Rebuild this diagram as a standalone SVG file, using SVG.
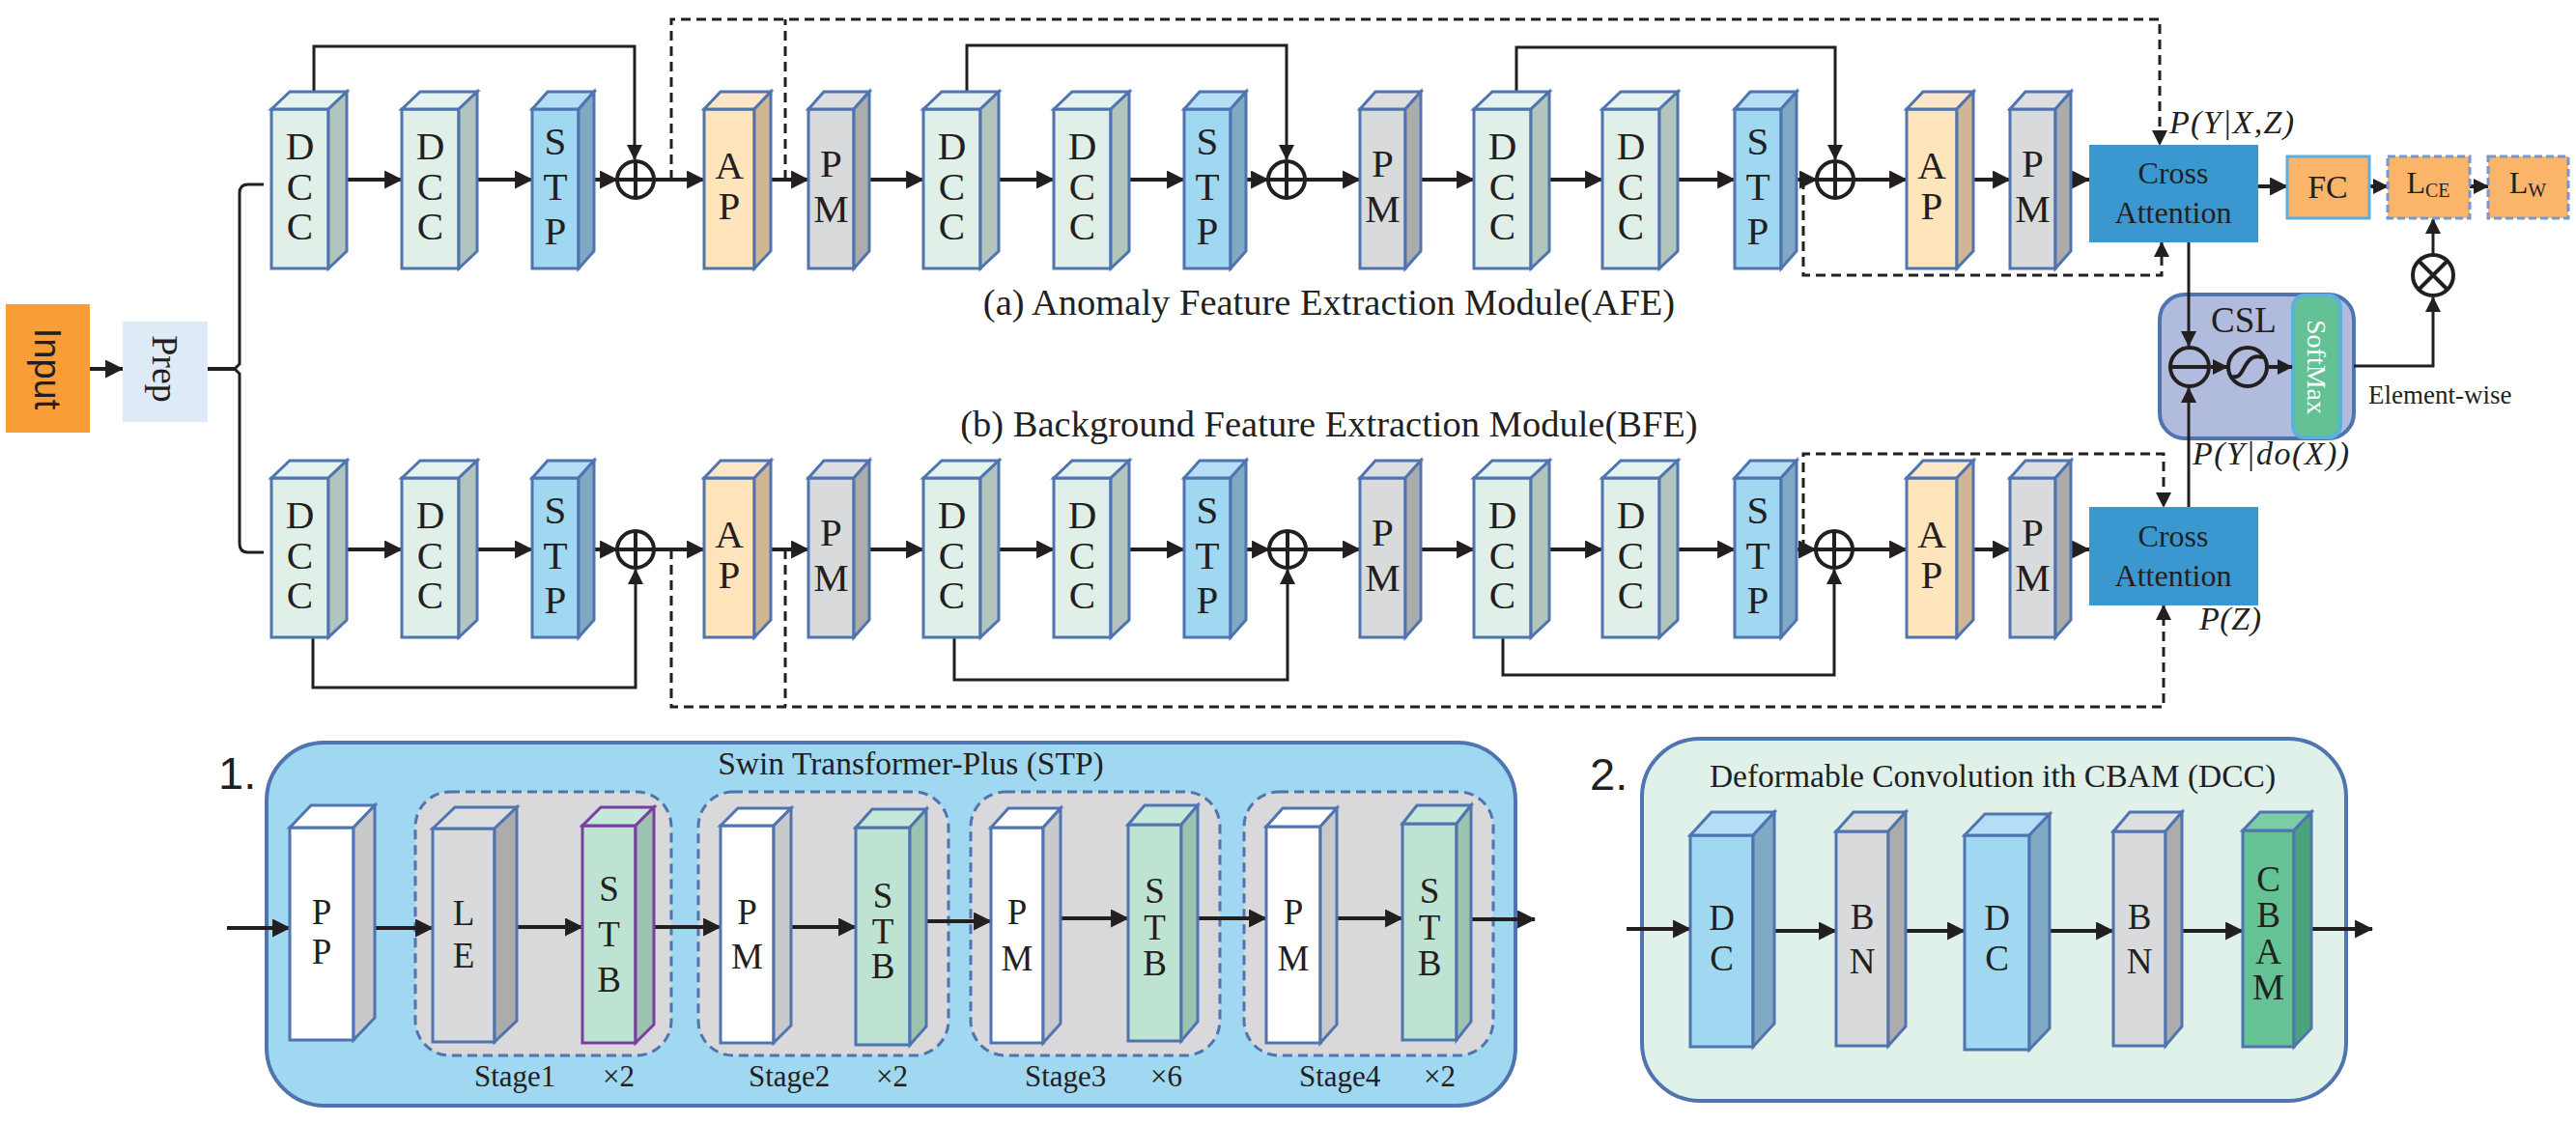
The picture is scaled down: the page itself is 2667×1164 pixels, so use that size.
<svg xmlns="http://www.w3.org/2000/svg" width="2667" height="1164" viewBox="0 0 2667 1164">
<style>
.bd{stroke:#4F74AF;stroke-width:3;stroke-linejoin:miter}
.bp{stroke:#7A3E9D;stroke-width:3}
.fdcc{fill:#E0F0E9}.tdcc{fill:#E4F3ED}.sdcc{fill:#B1C5BD}
.fstp{fill:#A0D7F1}.tstp{fill:#B4DEF5}.sstp{fill:#80A9C4}
.fap{fill:#FFE4BC}.tap{fill:#FEE7C8}.sap{fill:#D1B693}
.fpm{fill:#D9DADC}.tpm{fill:#DDDEE0}.spm{fill:#ACACAC}
.fw{fill:#FFFFFF}.sw{fill:#C8C9CA}
.fstb{fill:#BEE3D3}.tstb{fill:#C6E8D9}.sstb{fill:#9CC3B2}
.fcb{fill:#65C295}.tcb{fill:#7CCDA6}.scb{fill:#4BA37B}
.ln{stroke:#231F20;stroke-width:4;fill:none}
.sk{stroke:#231F20;stroke-width:3;fill:none}
.ds{stroke:#231F20;stroke-width:3;fill:none;stroke-dasharray:10 6}
.op{fill:#FFFFFF;stroke:#231F20;stroke-width:4}
.opl{stroke:#231F20;stroke-width:4;fill:none}
text{font-family:"Liberation Serif","Times New Roman",serif;fill:#231F20}
.lt{font-size:41px;text-anchor:middle}
.ls{font-size:37px;text-anchor:middle}
.cap{font-size:38.5px;text-anchor:middle}
.ca{font-size:32px;text-anchor:middle}
.math{font-size:34px;font-style:italic}
.stg{font-size:31px}
.ttl{font-size:33.5px;text-anchor:middle}
.num{font-family:"Liberation Sans",Arial,sans-serif;font-size:47px}
</style>
<defs>
<marker id="ah" markerUnits="userSpaceOnUse" markerWidth="19" markerHeight="19" viewBox="0 0 18 18" refX="17" refY="9" orient="auto"><path d="M0,0 L18,9 L0,18 Z" fill="#231F20"/></marker>
<marker id="ahs" markerUnits="userSpaceOnUse" markerWidth="16" markerHeight="16" viewBox="0 0 16 16" refX="15" refY="8" orient="auto"><path d="M0,0 L16,8 L0,16 Z" fill="#231F20"/></marker>
</defs>
<rect width="2667" height="1164" fill="#FFFFFF"/>

<!-- ===== Panel backgrounds ===== -->
<g id="panel-stp">
<rect x="276" y="769" width="1293" height="376" rx="60" fill="#A0D7F1" stroke="#4F74AF" stroke-width="4"/>
<text class="num" x="226" y="817">1.</text>
<text class="ttl" x="943" y="802">Swin Transformer-Plus (STP)</text>
<rect x="430" y="820" width="265" height="273" rx="36" fill="#D9D9DB" stroke="#4F74AF" stroke-width="3" stroke-dasharray="10 6"/>
<rect x="723" y="820" width="259" height="273" rx="36" fill="#D9D9DB" stroke="#4F74AF" stroke-width="3" stroke-dasharray="10 6"/>
<rect x="1005" y="820" width="258" height="273" rx="36" fill="#D9D9DB" stroke="#4F74AF" stroke-width="3" stroke-dasharray="10 6"/>
<rect x="1288" y="820" width="258" height="273" rx="36" fill="#D9D9DB" stroke="#4F74AF" stroke-width="3" stroke-dasharray="10 6"/>
<text class="stg" x="491" y="1125">Stage1</text><text class="stg" x="624" y="1125">×2</text>
<text class="stg" x="775" y="1125">Stage2</text><text class="stg" x="907" y="1125">×2</text>
<text class="stg" x="1061" y="1125">Stage3</text><text class="stg" x="1191" y="1125">×6</text>
<text class="stg" x="1345" y="1125">Stage4</text><text class="stg" x="1474" y="1125">×2</text>
</g>
<g id="panel-dcc">
<rect x="1700" y="765" width="729" height="375" rx="60" fill="#E0F1EA" stroke="#4F74AF" stroke-width="4"/>
<text class="num" x="1646" y="818">2.</text>
<text class="ttl" x="2063" y="815">Deformable Convolution ith CBAM (DCC)</text>
</g>

<!-- ===== CSL (drawn under its arrows) ===== -->
<g id="csl">
<rect x="2236" y="305" width="201" height="149" rx="26" fill="#B1BBDD" stroke="#4F74AF" stroke-width="4"/>
<rect x="2374" y="306" width="49" height="147" rx="12" fill="#64C195" stroke="#5BB0E0" stroke-width="4"/>
<text transform="translate(2398,380) rotate(90)" text-anchor="middle" dominant-baseline="central" style="font-size:28px;fill:#FFFFFF">SoftMax</text>
<text x="2323" y="344" text-anchor="middle" style="font-size:37px">CSL</text>
<circle cx="2267" cy="380" r="20" style="fill:none;stroke:#231F20;stroke-width:4"/><path class="opl" d="M2247,380 H2287"/>
<circle cx="2327" cy="380" r="20" style="fill:none;stroke:#231F20;stroke-width:4"/><path class="opl" d="M2311,390 C2320,392 2321,384 2325,378 C2330,370 2334,368 2343,370"/>
</g>

<!-- ===== Connectors ===== -->
<g id="connectors">
<line class="ln" x1="93" y1="382" x2="127" y2="382" marker-end="url(#ah)"/>
<path class="ln" d="M215,382 H243"/>
<path class="sk" d="M273,191 H257 Q248,191 248,200 V377 L243,382 L248,387 V563 Q248,572 257,572 H273"/>
<!-- top row -->
<line class="ln" x1="359" y1="186" x2="416" y2="186" marker-end="url(#ah)"/>
<line class="ln" x1="494" y1="186" x2="551" y2="186" marker-end="url(#ah)"/>
<line class="ln" x1="615" y1="186" x2="639" y2="186" marker-end="url(#ah)"/>
<line class="ln" x1="677" y1="186" x2="729" y2="186" marker-end="url(#ah)"/>
<line class="ln" x1="798" y1="186" x2="837" y2="186" marker-end="url(#ah)"/>
<line class="ln" x1="900" y1="186" x2="956" y2="186" marker-end="url(#ah)"/>
<line class="ln" x1="1034" y1="186" x2="1091" y2="186" marker-end="url(#ah)"/>
<line class="ln" x1="1169" y1="186" x2="1226" y2="186" marker-end="url(#ah)"/>
<line class="ln" x1="1290" y1="186" x2="1313" y2="186" marker-end="url(#ah)"/>
<line class="ln" x1="1351" y1="186" x2="1408" y2="186" marker-end="url(#ah)"/>
<line class="ln" x1="1471" y1="186" x2="1526" y2="186" marker-end="url(#ah)"/>
<line class="ln" x1="1604" y1="186" x2="1659" y2="186" marker-end="url(#ah)"/>
<line class="ln" x1="1737" y1="186" x2="1796" y2="186" marker-end="url(#ah)"/>
<line class="ln" x1="1860" y1="186" x2="1881" y2="186" marker-end="url(#ah)"/>
<line class="ln" x1="1919" y1="186" x2="1974" y2="186" marker-end="url(#ah)"/>
<line class="ln" x1="2043" y1="186" x2="2081" y2="186" marker-end="url(#ah)"/>
<line class="ln" x1="2144" y1="186" x2="2163" y2="186" marker-end="url(#ah)"/>
<path class="sk" d="M325,95 V48 H657 V165" marker-end="url(#ahs)"/>
<path class="sk" d="M1001,95 V47 H1332 V165" marker-end="url(#ahs)"/>
<path class="sk" d="M1570,95 V49 H1900 V165" marker-end="url(#ahs)"/>
<path class="ds" d="M695,186 V20 H2236 V150" marker-end="url(#ahs)"/>
<path class="ds" d="M813,186 V20"/>
<path class="ds" d="M1867,186 V285 H2238 V251" marker-end="url(#ahs)"/>
<!-- bottom row -->
<line class="ln" x1="359" y1="569" x2="416" y2="569" marker-end="url(#ah)"/>
<line class="ln" x1="494" y1="569" x2="551" y2="569" marker-end="url(#ah)"/>
<line class="ln" x1="615" y1="569" x2="639" y2="569" marker-end="url(#ah)"/>
<line class="ln" x1="677" y1="569" x2="729" y2="569" marker-end="url(#ah)"/>
<line class="ln" x1="798" y1="569" x2="837" y2="569" marker-end="url(#ah)"/>
<line class="ln" x1="900" y1="569" x2="956" y2="569" marker-end="url(#ah)"/>
<line class="ln" x1="1034" y1="569" x2="1091" y2="569" marker-end="url(#ah)"/>
<line class="ln" x1="1169" y1="569" x2="1226" y2="569" marker-end="url(#ah)"/>
<line class="ln" x1="1290" y1="569" x2="1314" y2="569" marker-end="url(#ah)"/>
<line class="ln" x1="1352" y1="569" x2="1408" y2="569" marker-end="url(#ah)"/>
<line class="ln" x1="1471" y1="569" x2="1526" y2="569" marker-end="url(#ah)"/>
<line class="ln" x1="1604" y1="569" x2="1659" y2="569" marker-end="url(#ah)"/>
<line class="ln" x1="1737" y1="569" x2="1796" y2="569" marker-end="url(#ah)"/>
<line class="ln" x1="1860" y1="569" x2="1880" y2="569" marker-end="url(#ah)"/>
<line class="ln" x1="1918" y1="569" x2="1974" y2="569" marker-end="url(#ah)"/>
<line class="ln" x1="2043" y1="569" x2="2081" y2="569" marker-end="url(#ah)"/>
<line class="ln" x1="2144" y1="569" x2="2163" y2="569" marker-end="url(#ah)"/>
<path class="sk" d="M324,660 V712 H658 V590" marker-end="url(#ahs)"/>
<path class="sk" d="M988,660 V704 H1333 V590" marker-end="url(#ahs)"/>
<path class="sk" d="M1556,660 V699 H1899 V590" marker-end="url(#ahs)"/>
<path class="ds" d="M695,569 V732 H2240 V627" marker-end="url(#ahs)"/>
<path class="ds" d="M813,569 V732"/>
<path class="ds" d="M1867,569 V470 H2240 V525" marker-end="url(#ahs)"/>
<!-- head -->
<line class="sk" x1="2266" y1="251" x2="2266" y2="358" marker-end="url(#ahs)"/>
<line class="sk" x1="2266" y1="525" x2="2266" y2="402" marker-end="url(#ahs)"/>
<line class="ln" x1="2289" y1="380" x2="2306" y2="380" marker-end="url(#ahs)"/>
<line class="ln" x1="2349" y1="380" x2="2373" y2="380" marker-end="url(#ahs)"/>
<path class="sk" d="M2437,379 H2519 V308" marker-end="url(#ahs)"/>
<line class="sk" x1="2519" y1="264" x2="2519" y2="227" marker-end="url(#ahs)"/>
<line class="ln" x1="2338" y1="193" x2="2368" y2="193" marker-end="url(#ah)"/>
<line class="ln" x1="2453" y1="193" x2="2472" y2="193" marker-end="url(#ahs)"/>
<line class="ln" x1="2557" y1="193" x2="2576" y2="193" marker-end="url(#ahs)"/>
<!-- panel 1 -->
<line class="ln" x1="235" y1="961" x2="300" y2="961" marker-end="url(#ah)"/>
<line class="ln" x1="388" y1="961" x2="448" y2="961" marker-end="url(#ah)"/>
<line class="ln" x1="535" y1="960" x2="603" y2="960" marker-end="url(#ah)"/>
<line class="ln" x1="677" y1="960" x2="746" y2="960" marker-end="url(#ah)"/>
<line class="ln" x1="819" y1="960" x2="886" y2="960" marker-end="url(#ah)"/>
<line class="ln" x1="959" y1="954" x2="1026" y2="954" marker-end="url(#ah)"/>
<line class="ln" x1="1098" y1="951" x2="1168" y2="951" marker-end="url(#ah)"/>
<line class="ln" x1="1240" y1="951" x2="1311" y2="951" marker-end="url(#ah)"/>
<line class="ln" x1="1384" y1="951" x2="1452" y2="951" marker-end="url(#ah)"/>
<line class="ln" x1="1523" y1="952" x2="1589" y2="952" marker-end="url(#ah)"/>
<!-- panel 2 -->
<line class="ln" x1="1684" y1="962" x2="1750" y2="962" marker-end="url(#ah)"/>
<line class="ln" x1="1837" y1="964" x2="1901" y2="964" marker-end="url(#ah)"/>
<line class="ln" x1="1973" y1="964" x2="2034" y2="964" marker-end="url(#ah)"/>
<line class="ln" x1="2122" y1="964" x2="2188" y2="964" marker-end="url(#ah)"/>
<line class="ln" x1="2259" y1="964" x2="2322" y2="964" marker-end="url(#ah)"/>
<line class="ln" x1="2393" y1="962" x2="2456" y2="962" marker-end="url(#ah)"/>
</g>

<!-- Input / Prep -->
<g id="input"><rect x="6" y="315" width="87" height="133" fill="#F99D36"/><text transform="translate(49,382) rotate(90)" text-anchor="middle" dominant-baseline="central" style="font-family:'Liberation Sans',Arial,sans-serif;font-size:38px">Input</text></g>
<g id="prep"><rect x="127" y="333" width="88" height="104" fill="#DEEAF6"/><text transform="translate(171,382) rotate(90)" text-anchor="middle" dominant-baseline="central" style="font-size:38px">Prep</text></g>

<!-- ===== AFE (top row) ===== -->
<g id="afe-dcc1" transform="translate(281,95)"><rect class="bd fdcc" x="0" y="18" width="59" height="165"/><polygon class="bd tdcc" points="0,18 19,0 78,0 59,18"/><polygon class="bd sdcc" points="59,18 78,0 78,165 59,183"/><text class="lt" x="29.5" y="70">D</text><text class="lt" x="29.5" y="112">C</text><text class="lt" x="29.5" y="153">C</text></g>
<g id="afe-dcc2" transform="translate(416,95)"><rect class="bd fdcc" x="0" y="18" width="59" height="165"/><polygon class="bd tdcc" points="0,18 19,0 78,0 59,18"/><polygon class="bd sdcc" points="59,18 78,0 78,165 59,183"/><text class="lt" x="29.5" y="70">D</text><text class="lt" x="29.5" y="112">C</text><text class="lt" x="29.5" y="153">C</text></g>
<g id="afe-stp1" transform="translate(551,95)"><rect class="bd fstp" x="0" y="18" width="48" height="165"/><polygon class="bd tstp" points="0,18 16,0 64,0 48,18"/><polygon class="bd sstp" points="48,18 64,0 64,165 48,183"/><text class="lt" x="24" y="65">S</text><text class="lt" x="24" y="112">T</text><text class="lt" x="24" y="158">P</text></g>
<g id="afe-ap1" transform="translate(729,95)"><rect class="bd fap" x="0" y="18" width="52" height="165"/><polygon class="bd tap" points="0,18 17,0 69,0 52,18"/><polygon class="bd sap" points="52,18 69,0 69,165 52,183"/><text class="lt" x="26" y="90">A</text><text class="lt" x="26" y="132">P</text></g>
<g id="afe-pm1" transform="translate(837,95)"><rect class="bd fpm" x="0" y="18" width="47" height="165"/><polygon class="bd tpm" points="0,18 16,0 63,0 47,18"/><polygon class="bd spm" points="47,18 63,0 63,165 47,183"/><text class="lt" x="23.5" y="88">P</text><text class="lt" x="23.5" y="135">M</text></g>
<g id="afe-dcc3" transform="translate(956,95)"><rect class="bd fdcc" x="0" y="18" width="59" height="165"/><polygon class="bd tdcc" points="0,18 19,0 78,0 59,18"/><polygon class="bd sdcc" points="59,18 78,0 78,165 59,183"/><text class="lt" x="29.5" y="70">D</text><text class="lt" x="29.5" y="112">C</text><text class="lt" x="29.5" y="153">C</text></g>
<g id="afe-dcc4" transform="translate(1091,95)"><rect class="bd fdcc" x="0" y="18" width="59" height="165"/><polygon class="bd tdcc" points="0,18 19,0 78,0 59,18"/><polygon class="bd sdcc" points="59,18 78,0 78,165 59,183"/><text class="lt" x="29.5" y="70">D</text><text class="lt" x="29.5" y="112">C</text><text class="lt" x="29.5" y="153">C</text></g>
<g id="afe-stp2" transform="translate(1226,95)"><rect class="bd fstp" x="0" y="18" width="48" height="165"/><polygon class="bd tstp" points="0,18 16,0 64,0 48,18"/><polygon class="bd sstp" points="48,18 64,0 64,165 48,183"/><text class="lt" x="24" y="65">S</text><text class="lt" x="24" y="112">T</text><text class="lt" x="24" y="158">P</text></g>
<g id="afe-pm2" transform="translate(1408,95)"><rect class="bd fpm" x="0" y="18" width="47" height="165"/><polygon class="bd tpm" points="0,18 16,0 63,0 47,18"/><polygon class="bd spm" points="47,18 63,0 63,165 47,183"/><text class="lt" x="23.5" y="88">P</text><text class="lt" x="23.5" y="135">M</text></g>
<g id="afe-dcc5" transform="translate(1526,95)"><rect class="bd fdcc" x="0" y="18" width="59" height="165"/><polygon class="bd tdcc" points="0,18 19,0 78,0 59,18"/><polygon class="bd sdcc" points="59,18 78,0 78,165 59,183"/><text class="lt" x="29.5" y="70">D</text><text class="lt" x="29.5" y="112">C</text><text class="lt" x="29.5" y="153">C</text></g>
<g id="afe-dcc6" transform="translate(1659,95)"><rect class="bd fdcc" x="0" y="18" width="59" height="165"/><polygon class="bd tdcc" points="0,18 19,0 78,0 59,18"/><polygon class="bd sdcc" points="59,18 78,0 78,165 59,183"/><text class="lt" x="29.5" y="70">D</text><text class="lt" x="29.5" y="112">C</text><text class="lt" x="29.5" y="153">C</text></g>
<g id="afe-stp3" transform="translate(1796,95)"><rect class="bd fstp" x="0" y="18" width="48" height="165"/><polygon class="bd tstp" points="0,18 16,0 64,0 48,18"/><polygon class="bd sstp" points="48,18 64,0 64,165 48,183"/><text class="lt" x="24" y="65">S</text><text class="lt" x="24" y="112">T</text><text class="lt" x="24" y="158">P</text></g>
<g id="afe-ap3" transform="translate(1974,95)"><rect class="bd fap" x="0" y="18" width="52" height="165"/><polygon class="bd tap" points="0,18 17,0 69,0 52,18"/><polygon class="bd sap" points="52,18 69,0 69,165 52,183"/><text class="lt" x="26" y="90">A</text><text class="lt" x="26" y="132">P</text></g>
<g id="afe-pm3" transform="translate(2081,95)"><rect class="bd fpm" x="0" y="18" width="47" height="165"/><polygon class="bd tpm" points="0,18 16,0 63,0 47,18"/><polygon class="bd spm" points="47,18 63,0 63,165 47,183"/><text class="lt" x="23.5" y="88">P</text><text class="lt" x="23.5" y="135">M</text></g>
<g id="afe-add1"><circle class="op" cx="658" cy="186" r="19"/><path class="opl" d="M639,186 H677 M658,167 V205"/></g>
<g id="afe-add2"><circle class="op" cx="1332" cy="186" r="19"/><path class="opl" d="M1313,186 H1351 M1332,167 V205"/></g>
<g id="afe-add3"><circle class="op" cx="1900" cy="186" r="19"/><path class="opl" d="M1881,186 H1919 M1900,167 V205"/></g>
<g id="afe-ca"><rect x="2163" y="150" width="175" height="101" fill="#3A97D0"/><text class="ca" x="2250" y="190">Cross</text><text class="ca" x="2250" y="231">Attention</text></g>
<text class="cap" x="1376" y="326">(a) Anomaly Feature Extraction Module(AFE)</text>

<!-- ===== BFE (bottom row) ===== -->
<g id="bfe-dcc1" transform="translate(281,477)"><rect class="bd fdcc" x="0" y="18" width="59" height="165"/><polygon class="bd tdcc" points="0,18 19,0 78,0 59,18"/><polygon class="bd sdcc" points="59,18 78,0 78,165 59,183"/><text class="lt" x="29.5" y="70">D</text><text class="lt" x="29.5" y="112">C</text><text class="lt" x="29.5" y="153">C</text></g>
<g id="bfe-dcc2" transform="translate(416,477)"><rect class="bd fdcc" x="0" y="18" width="59" height="165"/><polygon class="bd tdcc" points="0,18 19,0 78,0 59,18"/><polygon class="bd sdcc" points="59,18 78,0 78,165 59,183"/><text class="lt" x="29.5" y="70">D</text><text class="lt" x="29.5" y="112">C</text><text class="lt" x="29.5" y="153">C</text></g>
<g id="bfe-stp1" transform="translate(551,477)"><rect class="bd fstp" x="0" y="18" width="48" height="165"/><polygon class="bd tstp" points="0,18 16,0 64,0 48,18"/><polygon class="bd sstp" points="48,18 64,0 64,165 48,183"/><text class="lt" x="24" y="65">S</text><text class="lt" x="24" y="112">T</text><text class="lt" x="24" y="158">P</text></g>
<g id="bfe-ap1" transform="translate(729,477)"><rect class="bd fap" x="0" y="18" width="52" height="165"/><polygon class="bd tap" points="0,18 17,0 69,0 52,18"/><polygon class="bd sap" points="52,18 69,0 69,165 52,183"/><text class="lt" x="26" y="90">A</text><text class="lt" x="26" y="132">P</text></g>
<g id="bfe-pm1" transform="translate(837,477)"><rect class="bd fpm" x="0" y="18" width="47" height="165"/><polygon class="bd tpm" points="0,18 16,0 63,0 47,18"/><polygon class="bd spm" points="47,18 63,0 63,165 47,183"/><text class="lt" x="23.5" y="88">P</text><text class="lt" x="23.5" y="135">M</text></g>
<g id="bfe-dcc3" transform="translate(956,477)"><rect class="bd fdcc" x="0" y="18" width="59" height="165"/><polygon class="bd tdcc" points="0,18 19,0 78,0 59,18"/><polygon class="bd sdcc" points="59,18 78,0 78,165 59,183"/><text class="lt" x="29.5" y="70">D</text><text class="lt" x="29.5" y="112">C</text><text class="lt" x="29.5" y="153">C</text></g>
<g id="bfe-dcc4" transform="translate(1091,477)"><rect class="bd fdcc" x="0" y="18" width="59" height="165"/><polygon class="bd tdcc" points="0,18 19,0 78,0 59,18"/><polygon class="bd sdcc" points="59,18 78,0 78,165 59,183"/><text class="lt" x="29.5" y="70">D</text><text class="lt" x="29.5" y="112">C</text><text class="lt" x="29.5" y="153">C</text></g>
<g id="bfe-stp2" transform="translate(1226,477)"><rect class="bd fstp" x="0" y="18" width="48" height="165"/><polygon class="bd tstp" points="0,18 16,0 64,0 48,18"/><polygon class="bd sstp" points="48,18 64,0 64,165 48,183"/><text class="lt" x="24" y="65">S</text><text class="lt" x="24" y="112">T</text><text class="lt" x="24" y="158">P</text></g>
<g id="bfe-pm2" transform="translate(1408,477)"><rect class="bd fpm" x="0" y="18" width="47" height="165"/><polygon class="bd tpm" points="0,18 16,0 63,0 47,18"/><polygon class="bd spm" points="47,18 63,0 63,165 47,183"/><text class="lt" x="23.5" y="88">P</text><text class="lt" x="23.5" y="135">M</text></g>
<g id="bfe-dcc5" transform="translate(1526,477)"><rect class="bd fdcc" x="0" y="18" width="59" height="165"/><polygon class="bd tdcc" points="0,18 19,0 78,0 59,18"/><polygon class="bd sdcc" points="59,18 78,0 78,165 59,183"/><text class="lt" x="29.5" y="70">D</text><text class="lt" x="29.5" y="112">C</text><text class="lt" x="29.5" y="153">C</text></g>
<g id="bfe-dcc6" transform="translate(1659,477)"><rect class="bd fdcc" x="0" y="18" width="59" height="165"/><polygon class="bd tdcc" points="0,18 19,0 78,0 59,18"/><polygon class="bd sdcc" points="59,18 78,0 78,165 59,183"/><text class="lt" x="29.5" y="70">D</text><text class="lt" x="29.5" y="112">C</text><text class="lt" x="29.5" y="153">C</text></g>
<g id="bfe-stp3" transform="translate(1796,477)"><rect class="bd fstp" x="0" y="18" width="48" height="165"/><polygon class="bd tstp" points="0,18 16,0 64,0 48,18"/><polygon class="bd sstp" points="48,18 64,0 64,165 48,183"/><text class="lt" x="24" y="65">S</text><text class="lt" x="24" y="112">T</text><text class="lt" x="24" y="158">P</text></g>
<g id="bfe-ap3" transform="translate(1974,477)"><rect class="bd fap" x="0" y="18" width="52" height="165"/><polygon class="bd tap" points="0,18 17,0 69,0 52,18"/><polygon class="bd sap" points="52,18 69,0 69,165 52,183"/><text class="lt" x="26" y="90">A</text><text class="lt" x="26" y="132">P</text></g>
<g id="bfe-pm3" transform="translate(2081,477)"><rect class="bd fpm" x="0" y="18" width="47" height="165"/><polygon class="bd tpm" points="0,18 16,0 63,0 47,18"/><polygon class="bd spm" points="47,18 63,0 63,165 47,183"/><text class="lt" x="23.5" y="88">P</text><text class="lt" x="23.5" y="135">M</text></g>
<g id="bfe-add1"><circle class="op" cx="658" cy="569" r="19"/><path class="opl" d="M639,569 H677 M658,550 V588"/></g>
<g id="bfe-add2"><circle class="op" cx="1333" cy="569" r="19"/><path class="opl" d="M1314,569 H1352 M1333,550 V588"/></g>
<g id="bfe-add3"><circle class="op" cx="1899" cy="569" r="19"/><path class="opl" d="M1880,569 H1918 M1899,550 V588"/></g>
<g id="bfe-ca"><rect x="2163" y="525" width="175" height="102" fill="#3A97D0"/><text class="ca" x="2250" y="566">Cross</text><text class="ca" x="2250" y="607">Attention</text></g>
<text class="cap" x="1376" y="452">(b) Background Feature Extraction Module(BFE)</text>

<!-- ===== Head: FC, losses ===== -->
<g id="fc"><rect x="2368" y="162" width="85" height="64" fill="#FBB56B" stroke="#5BAEE0" stroke-width="3"/><text x="2410" y="205" text-anchor="middle" style="font-size:34px">FC</text></g>
<g id="lce"><rect x="2472" y="162" width="85" height="64" fill="#FBB56B" stroke="#7598D0" stroke-width="3" stroke-dasharray="8 4"/><text x="2514" y="200" text-anchor="middle" style="font-size:32px">L<tspan dy="4" style="font-size:20px">CE</tspan></text></g>
<g id="lw"><rect x="2576" y="162" width="83" height="64" fill="#FBB56B" stroke="#7598D0" stroke-width="3" stroke-dasharray="8 4"/><text x="2617" y="200" text-anchor="middle" style="font-size:32px">L<tspan dy="4" style="font-size:20px">W</tspan></text></g>
<g id="mul"><circle class="op" cx="2519" cy="285" r="21"/><path class="opl" d="M2504,270 L2534,300 M2534,270 L2504,300"/></g>
<text x="2452" y="418" style="font-size:27px">Element-wise</text>
<text class="math" x="2246" y="138" textLength="129">P(Y|X,Z)</text>
<text class="math" x="2270" y="481" textLength="162">P(Y|do(X))</text>
<text class="math" x="2277" y="652" textLength="64">P(Z)</text>

<!-- ===== Panel 1 nodes ===== -->
<g id="stp-pp"><rect class="bd fw" x="300" y="857" width="66" height="220"/><polygon class="bd fw" points="300,857 322,834 388,834 366,857"/><polygon class="bd sw" points="366,857 388,834 388,1054 366,1077"/><text class="ls" x="333" y="957">P</text><text class="ls" x="333" y="998">P</text></g>
<g id="stp-le"><rect class="bd fpm" x="448" y="858" width="64" height="221"/><polygon class="bd tpm" points="448,858 471,836 535,836 512,858"/><polygon class="bd spm" points="512,858 535,836 535,1057 512,1079"/><text class="ls" x="480" y="958">L</text><text class="ls" x="480" y="1002">E</text></g>
<g id="stp-stb1"><rect class="bp fstb" x="603" y="855" width="55" height="225"/><polygon class="bp tstb" points="603,855 622,836 677,836 658,855"/><polygon class="bp sstb" points="658,855 677,836 677,1061 658,1080"/><text class="ls" x="630.5" y="933">S</text><text class="ls" x="630.5" y="980">T</text><text class="ls" x="630.5" y="1027">B</text></g>
<g id="stp-pm2"><rect class="bd fw" x="746" y="855" width="55" height="225"/><polygon class="bd fw" points="746,855 764,837 819,837 801,855"/><polygon class="bd sw" points="801,855 819,837 819,1062 801,1080"/><text class="ls" x="773.5" y="957">P</text><text class="ls" x="773.5" y="1003">M</text></g>
<g id="stp-stb2"><rect class="bd fstb" x="886" y="857" width="56" height="225"/><polygon class="bd tstb" points="886,857 903,838 959,838 942,857"/><polygon class="bd sstb" points="942,857 959,838 959,1063 942,1082"/><text class="ls" x="914" y="940">S</text><text class="ls" x="914" y="977">T</text><text class="ls" x="914" y="1013">B</text></g>
<g id="stp-pm3"><rect class="bd fw" x="1026" y="857" width="54" height="223"/><polygon class="bd fw" points="1026,857 1044,837 1098,837 1080,857"/><polygon class="bd sw" points="1080,857 1098,837 1098,1060 1080,1080"/><text class="ls" x="1053" y="957">P</text><text class="ls" x="1053" y="1005">M</text></g>
<g id="stp-stb3"><rect class="bd fstb" x="1168" y="854" width="55" height="224"/><polygon class="bd tstb" points="1168,854 1185,834 1240,834 1223,854"/><polygon class="bd sstb" points="1223,854 1240,834 1240,1058 1223,1078"/><text class="ls" x="1195.5" y="935">S</text><text class="ls" x="1195.5" y="973">T</text><text class="ls" x="1195.5" y="1010">B</text></g>
<g id="stp-pm4"><rect class="bd fw" x="1311" y="856" width="56" height="224"/><polygon class="bd fw" points="1311,856 1328,837 1384,837 1367,856"/><polygon class="bd sw" points="1367,856 1384,837 1384,1061 1367,1080"/><text class="ls" x="1339" y="957">P</text><text class="ls" x="1339" y="1005">M</text></g>
<g id="stp-stb4"><rect class="bd fstb" x="1452" y="853" width="56" height="224"/><polygon class="bd tstb" points="1452,853 1467,834 1523,834 1508,853"/><polygon class="bd sstb" points="1508,853 1523,834 1523,1058 1508,1077"/><text class="ls" x="1480" y="935">S</text><text class="ls" x="1480" y="973">T</text><text class="ls" x="1480" y="1010">B</text></g>

<!-- ===== Panel 2 nodes ===== -->
<g id="dcc-dc1"><rect class="bd fstp" x="1750" y="865" width="65" height="219"/><polygon class="bd tstp" points="1750,865 1772,841 1837,841 1815,865"/><polygon class="bd sstp" points="1815,865 1837,841 1837,1060 1815,1084"/><text class="ls" x="1782.5" y="963">D</text><text class="ls" x="1782.5" y="1005">C</text></g>
<g id="dcc-bn1"><rect class="bd fpm" x="1901" y="861" width="54" height="222"/><polygon class="bd tpm" points="1901,861 1919,841 1973,841 1955,861"/><polygon class="bd spm" points="1955,861 1973,841 1973,1063 1955,1083"/><text class="ls" x="1928" y="962">B</text><text class="ls" x="1928" y="1008">N</text></g>
<g id="dcc-dc2"><rect class="bd fstp" x="2034" y="865" width="67" height="222"/><polygon class="bd tstp" points="2034,865 2055,843 2122,843 2101,865"/><polygon class="bd sstp" points="2101,865 2122,843 2122,1065 2101,1087"/><text class="ls" x="2067.5" y="963">D</text><text class="ls" x="2067.5" y="1005">C</text></g>
<g id="dcc-bn2"><rect class="bd fpm" x="2188" y="861" width="54" height="222"/><polygon class="bd tpm" points="2188,861 2205,841 2259,841 2242,861"/><polygon class="bd spm" points="2242,861 2259,841 2259,1063 2242,1083"/><text class="ls" x="2215" y="962">B</text><text class="ls" x="2215" y="1008">N</text></g>
<g id="dcc-cbam"><rect class="bd fcb" x="2322" y="860" width="53" height="224"/><polygon class="bd tcb" points="2322,860 2340,841 2393,841 2375,860"/><polygon class="bd scb" points="2375,860 2393,841 2393,1065 2375,1084"/><text class="ls" x="2348.5" y="923">C</text><text class="ls" x="2348.5" y="960">B</text><text class="ls" x="2348.5" y="998">A</text><text class="ls" x="2348.5" y="1035">M</text></g>
</svg>
